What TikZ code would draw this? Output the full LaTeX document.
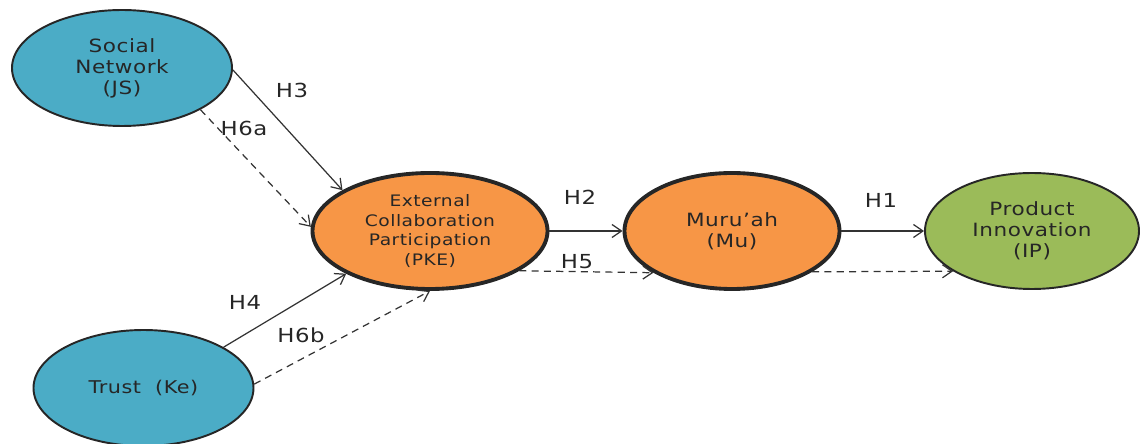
\documentclass[tikz,border=0pt]{standalone}
\usepackage{fontspec}
\setmainfont{DejaVu Sans}[FakeStretch=1.18, LetterSpace=3]
\usetikzlibrary{shapes.geometric,arrows.meta}
\definecolor{blueC}{HTML}{4BACC6}
\definecolor{orangeC}{HTML}{F79646}
\definecolor{greenC}{HTML}{9BBB59}
\definecolor{rimC}{HTML}{262626}
\tikzset{
	construct/.style={ellipse, draw=rimC, inner sep=0pt, minimum height=2.32cm,
		align=center, text=black!85, font=\fontsize{10.4}{12}\selectfont},
	path/.style={-{Straight Barb[length=1.9mm, width=2.6mm]}, line width=0.7pt, draw=black!80},
	pathdash/.style={path, dashed, dash pattern=on 4pt off 3pt},
	hyp/.style={font=\fontsize{11}{12}\selectfont, text=black!85}
}

\begin{document}
\begin{tikzpicture}
			%%%%% START %%%%%
			\useasboundingbox (0, 0) rectangle (22.8, 8.86);
			
			\node[construct, fill=blueC, line width=1.1pt, minimum width=4.4cm] (js) at (2.44, 7.50) {Social\\Network\\(JS)};
			\node[construct, fill=blueC, line width=1.1pt, minimum width=4.4cm, font=\fontsize{10}{12}\selectfont] (ke) at (2.87, 1.10) {Trust\ \ (Ke)};
			\node[construct, fill=orangeC, line width=2.2pt, minimum width=4.7cm, font=\fontsize{9}{11.3}\selectfont] (pke) at (8.60, 4.24) {External\\Collaboration\\Participation\\(PKE)};
			\node[construct, fill=orangeC, line width=2.2pt, minimum width=4.3cm] (mu) at (14.64, 4.24) {Muru’ah\\(Mu)};
			\node[construct, fill=greenC, line width=1.1pt, minimum width=4.28cm] (ip) at (20.64, 4.24) {Product\\Innovation\\(IP)};
			
			\draw[path] (js.-1) -- (pke.155);
			\draw[pathdash] (js.-28) -- (pke.178);
			\draw[path] (ke.27) -- (pke.207);
			\draw[pathdash] (ke.2) -- (pke.270);
			\draw[path] (pke.east) -- (mu.west);
			\draw[pathdash] (pke.-24) -- (mu.208);
			\draw[pathdash] (mu.-27) -- (ip.207);
			\draw[path] (mu.east) -- (ip.west);
			
			\node[hyp] (h3) at (5.84, 7.06) {H3};
			\node[hyp] (h6a) at (4.88, 6.30) {H6a};
			\node[hyp] (h4) at (4.90, 2.82) {H4};
			\node[hyp] (h6b) at (6.02, 2.16) {H6b};
			\node[hyp] (h2) at (11.60, 4.92) {H2};
			\node[hyp] (h5) at (11.54, 3.62) {H5};
			\node[hyp] (h1) at (17.62, 4.86) {H1};
			%%%%% END %%%%%
		\end{tikzpicture}
\end{document}
